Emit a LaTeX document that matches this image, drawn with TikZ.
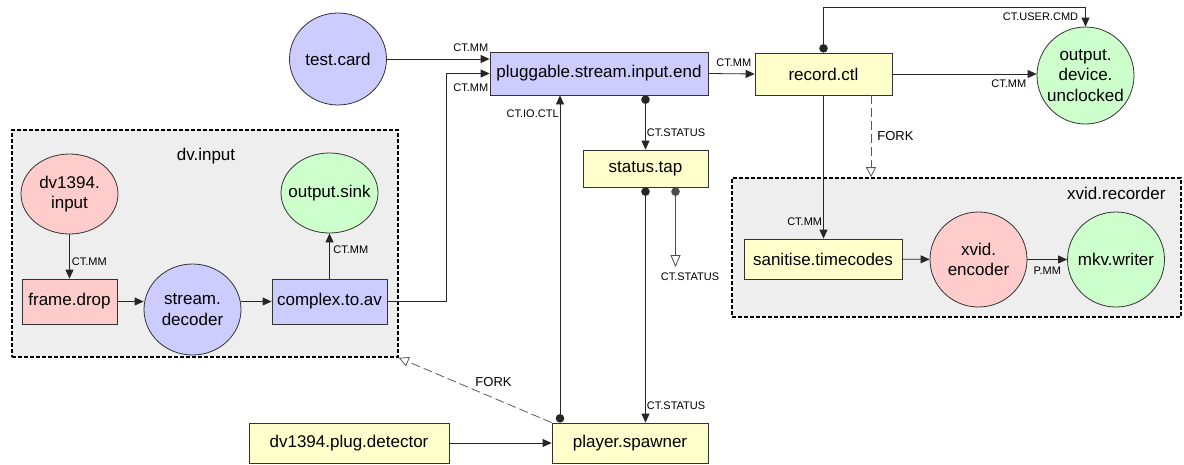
\documentclass[tikz,border=0pt]{standalone}
\usepackage{fontspec}
\setmainfont{Liberation Sans}
\usetikzlibrary{arrows.meta,shapes.geometric}

\definecolor{nodeblue}{HTML}{CCCCFF}
\definecolor{nodered}{HTML}{FFCCCC}
\definecolor{nodegreen}{HTML}{CCFFCC}
\definecolor{nodeyellow}{HTML}{FFFFCC}
\definecolor{groupgrey}{HTML}{EEEEEE}

\begin{document}
\begin{tikzpicture}[x=1pt, y=-1pt, font=\fontsize{17}{20.5}\selectfont,
	box/.style={draw=black!80, line width=0.8pt, inner sep=0pt},
	blob/.style={ellipse, draw=black!80, line width=0.8pt, minimum width=97pt, minimum height=#1, inner sep=-12pt, align=center},
	blob/.default=95pt,
	group/.style={draw, fill=groupgrey, line width=1.6pt, dash pattern=on 4pt off 2pt},
	flow/.style={draw=black!85, line width=0.8pt, -{Triangle[length=9pt,width=8pt]}},
	ctl/.style={draw=black!85, line width=0.8pt, {Circle[length=8.5pt]}-{Triangle[length=9pt,width=8pt]}},
	tap/.style={draw=black!70, line width=0.8pt, {Circle[length=8.5pt]}-{Triangle[open,length=12pt,width=10pt,fill=white]}},
	fork/.style={draw=black!65, line width=0.8pt, dash pattern=on 9pt off 4pt, -{Triangle[open,length=10pt,width=10pt,fill=white]}},
	lbl/.style={font=\fontsize{11}{12}\selectfont, inner sep=1pt},
	forklbl/.style={font=\fontsize{13}{14}\selectfont, inner sep=1pt}]
	\useasboundingbox (0,0) rectangle (1184,464);

	% groups
	\node[group, minimum width=386pt, minimum height=227pt] (dvinput) at (205,243.5) {};
	\node (dvinputname) at (206,156) {dv.input};
	\node[group, minimum width=449pt, minimum height=139pt] (xvidrec) at (956.5,247.5) {};
	\node[anchor=east] (xvidrecname) at (1169,193) {xvid.recorder};

	% top row
	\node[blob=92pt, fill=nodeblue] (testcard) at (338,59) {test.card};
	\node[box, fill=nodeblue, minimum width=218pt, minimum height=43pt] (pluggable) at (599,73.5) {pluggable.stream.input.end};
	\node[box, fill=nodeyellow, minimum width=137pt, minimum height=42pt] (recordctl) at (823.5,74) {record.ctl};
	\node[blob=97pt, fill=nodegreen] (outdev) at (1085.5,75.5) {output.\\device.\\unclocked};
	\node[box, fill=nodeyellow, minimum width=125pt, minimum height=37pt] (statustap) at (645.5,168.5) {status.tap};

	% dv.input
	\node[blob=80pt, fill=nodered] (dvsource) at (69.5,194) {dv1394.\\input};
	\node[box, fill=nodered, minimum width=95pt, minimum height=45pt] (framedrop) at (69.5,301.5) {frame.drop};
	\node[blob=91pt, fill=nodeblue] (decoder) at (192.5,309.5) {stream.\\decoder};
	\node[box, fill=nodeblue, minimum width=115pt, minimum height=45pt] (complextoav) at (329.5,301.5) {complex.to.av};
	\node[blob=80pt, fill=nodegreen] (outsink) at (329.5,193) {output.sink};

	% xvid.recorder
	\node[box, fill=nodeyellow, minimum width=158pt, minimum height=40pt] (sanitise) at (823,259) {sanitise.timecodes};
	\node[blob, fill=nodered] (xvidenc) at (978.5,259.5) {xvid.\\encoder};
	\node[blob, fill=nodegreen] (mkvwriter) at (1116,259.5) {mkv.writer};

	% bottom row
	\node[box, fill=nodeyellow, minimum width=200pt, minimum height=40pt] (plugdet) at (349,443) {dv1394.plug.detector};
	\node[box, fill=nodeyellow, minimum width=156pt, minimum height=40pt] (spawner) at (630,443) {player.spawner};
	\coordinate (statusend) at (675.5,267);

	\draw[flow] (testcard) -- (testcard -| pluggable.west) node[lbl, anchor=south east, yshift=6pt] {CT.MM};
	\draw[flow] (complextoav.east) -- ++(58.5,0) |- (pluggable.west) node[lbl, anchor=north east, yshift=-9pt] {CT.MM};
	\draw[flow] (pluggable.east) -- (recordctl.west) node[lbl, anchor=south east, xshift=-2pt, yshift=5.5pt] {CT.MM};
	\draw[flow] (recordctl.east) -- (recordctl.east -| outdev.west) node[lbl, anchor=north east, xshift=-9pt, yshift=-4pt] {CT.MM};
	\draw[ctl] (recordctl.north) -- ++(0,-45) -| (outdev.north) node[lbl, pos=0.74, anchor=east, xshift=-6pt] {CT.USER.CMD};
	\draw[ctl] (pluggable.south -| statustap) -- (statustap.north) node[lbl, pos=0.69, anchor=west] {CT.STATUS};
	\draw[ctl] ([xshift=-70pt]spawner.north) -- ([xshift=-70pt]spawner.north |- pluggable.south) node[lbl, pos=0.945, anchor=east] {CT.IO.CTL};
	\draw[ctl] (statustap.south) -- (statustap.south |- spawner.north) node[lbl, pos=0.928, anchor=west] {CT.STATUS};
	\draw[tap] (statustap.south -| statusend) -- (statusend) node[lbl, anchor=north, xshift=14.5pt, yshift=-4pt] {CT.STATUS};
	\draw[flow] (recordctl.south) -- (recordctl.south |- sanitise.north) node[lbl, pos=0.88, anchor=east] {CT.MM};
	\draw[fork] ([xshift=47.5pt]recordctl.south) -- ([xshift=47.5pt]recordctl.south |- xvidrec.north) node[forklbl, midway, anchor=west, xshift=5pt] {FORK};
	\draw[flow] (sanitise) -- (xvidenc);
	\draw[flow] (xvidenc) -- (mkvwriter) node[lbl, midway, anchor=north, yshift=-6.5pt] {P.MM};

	\draw[flow] (dvsource) -- (framedrop) node[lbl, pos=0.62, anchor=west, xshift=1pt] {CT.MM};
	\draw[flow] (framedrop.east) -- (framedrop.east -| decoder.west);
	\draw[flow] (decoder.east |- complextoav.west) -- (complextoav.west);
	\draw[flow] (complextoav) -- (outsink) node[lbl, pos=0.63, anchor=west, xshift=2.5pt] {CT.MM};

	\draw[flow] (plugdet) -- (spawner);
	\draw[fork] (spawner.north west) -- (dvinput.south east) node[forklbl, pos=0.38, anchor=south, yshift=10pt] {FORK};
\end{tikzpicture}
\end{document}
